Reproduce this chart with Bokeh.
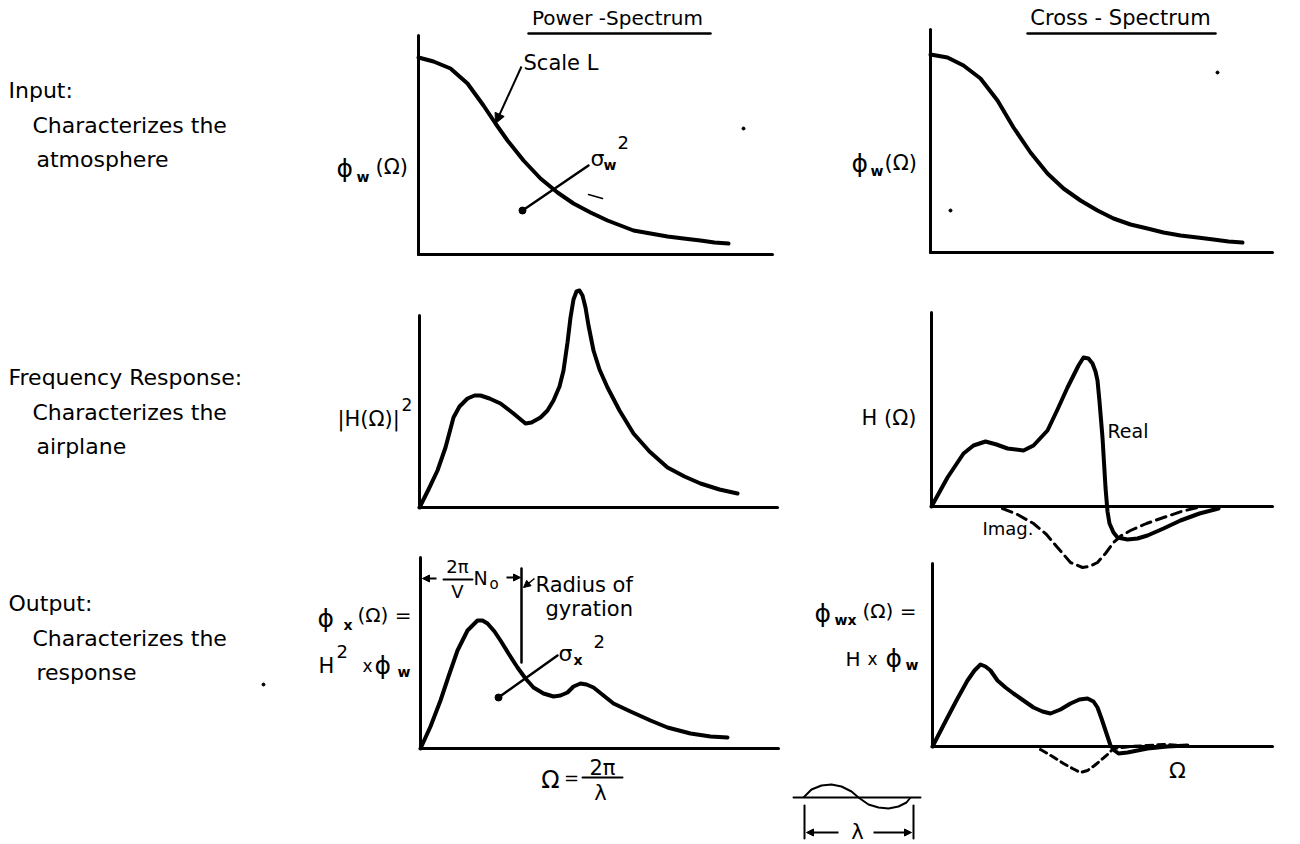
import numpy as np
from bokeh.plotting import figure
from bokeh.models import Range1d, Arrow, NormalHead
from bokeh.embed import file_html
from bokeh.resources import INLINE
from bokeh.core.properties import value

FONT = "DejaVu Sans"

# ---------------- texts ----------------
row_titles = ["Input:", "Frequency Response:", "Output:"]
row_line2 = ["Characterizes the", "Characterizes the", "Characterizes the"]
row_line3 = ["atmosphere", "airplane", "response"]
col_titles = ["Power -Spectrum", "Cross - Spectrum"]

# ---------------- curves (x right of origin, y above origin) ----------------
# Input power spectrum phi_w
pw_in_x = [0, 15, 32, 49, 65, 77, 89, 105, 122, 139, 155, 172, 189, 202, 215, 232, 249, 265, 282, 296, 310]
pw_in_y = [197, 193, 186, 171, 149, 131, 114, 94, 76, 62, 51, 42, 34, 29, 24, 21, 18, 16, 14, 12, 11]
# Input cross spectrum phi_w
cr_in_x = [0, 17, 33, 50, 67, 83, 100, 117, 133, 150, 167, 183, 200, 217, 233, 250, 267, 283, 298, 312]
cr_in_y = [198, 195, 187, 174, 152, 125, 100, 79, 64, 52, 42, 34, 28, 24, 20, 17, 15, 13, 11, 10]
# |H|^2
h2_x = [0, 9, 18, 26, 34, 40, 48, 55, 61, 70, 81, 94, 106, 112, 121, 128, 134, 140, 144, 148,
        151, 154, 157, 160, 163, 166, 169, 174, 180, 188, 200, 214, 230, 248, 265, 281, 300, 318]
h2_y = [0, 18, 37, 60, 90, 101, 109, 112, 112, 109, 104, 94, 84, 85, 90, 97, 107, 121, 137, 165,
        190, 208, 216, 217, 212, 200, 182, 157, 138, 120, 97, 74, 56, 40, 31, 24, 18, 14]
# H real
hr_x = [0, 16, 32, 42, 54, 65, 76, 92, 102, 116, 126, 136, 147, 152, 157, 161, 164, 166, 168,
        171, 174, 176, 178, 182, 186, 196, 206, 216, 232, 249, 268, 287]
hr_y = [0, 29, 53, 61, 65, 62, 58, 56, 61, 76, 97, 119, 141, 149, 148, 143, 135, 126, 105,
        69, 19, -5, -17, -26, -31, -33, -32, -29, -22, -14, -7, -2]
# H imaginary
hi_x = [71, 86, 102, 115, 126, 139, 151, 158, 166, 174, 182, 190, 199, 215, 232, 250, 266]
hi_y = [-2, -8, -17, -28, -41, -56, -61, -60, -56, -47, -36, -29, -24, -17, -11, -5, -1]
# phi_x output
px_x = [0, 10, 20, 28, 37, 47, 57, 62, 67, 74, 80, 88, 97, 105, 113, 123, 133, 140, 147, 153,
        160, 166, 173, 183, 193, 210, 230, 247, 270, 290, 307]
px_y = [0, 22, 48, 72, 98, 118, 128, 128, 125, 117, 108, 95, 81, 70, 61, 55, 52, 53, 56, 62,
        65, 64, 61, 53, 45, 37, 28, 21, 15, 12, 11]
# phi_wx real
pwx_x = [0, 15, 25, 35, 42, 48, 53, 58, 65, 73, 81, 91, 101, 110, 118, 128, 138, 147, 155, 161,
         165, 169, 173, 176, 178, 182, 186, 195, 205, 215, 235, 255]
pwx_y = [0, 29, 48, 66, 76, 82, 80, 76, 66, 59, 53, 46, 39, 35, 33, 37, 43, 47, 48, 45,
         39, 28, 16, 7, 1, -4, -7, -6, -4, -2, 0, 1]
# phi_wx imaginary
pwxi_x = [108, 120, 131, 140, 148, 155, 162, 168, 175, 181, 190, 198, 215, 231, 250]
pwxi_y = [-3, -10, -17, -22, -26, -24, -19, -14, -8, -2, -1, 0, 1, 2, 1]
# wavelength sketch
wave_x = [0, 8, 18, 28, 38, 48, 55, 65, 75, 85, 95, 103, 107]
wave_y = [0, 8, 12, 13, 11, 6, 0, -7, -10, -11, -9, -5, 0]

# ---------------- panel geometry (origin x, origin y, y-axis top, x-axis end) ----------------
panels = {
    "p_in": (418, 254, 35, 772),
    "c_in": (930, 252, 29, 1272),
    "p_fr": (419, 507, 315, 777),
    "c_fr": (931, 506, 312, 1272),
    "p_out": (420, 748, 557, 778),
    "c_out": (932, 746, 563, 1272),
}

p = figure(width=1284, height=844, x_range=Range1d(0, 1284), y_range=Range1d(844, 0),
           x_axis_type=None, y_axis_type=None, toolbar_location=None,
           output_backend="svg", min_border=0, outline_line_color=None,
           background_fill_color="white", border_fill_color="white")
p.grid.visible = False


def txt(x, y, s, size=20, align="left", baseline="middle", style="normal"):
    p.text(x=[x], y=[y], text=[s], text_font=value(FONT), text_font_size=f"{size}px",
           text_align=align, text_baseline=baseline, text_color="black", text_font_style=style)


def curve(key, xs, ys, width=4, dash="solid"):
    ox, oy, _, _ = panels[key]
    X = ox + np.asarray(xs, dtype=float)
    Y = oy - np.asarray(ys, dtype=float)
    p.line(X, Y, line_color="black", line_width=width, line_dash=dash,
           line_join="round", line_cap="round")


def seg(x0, y0, x1, y1, w=2.5):
    p.line([x0, x1], [y0, y1], line_color="black", line_width=w, line_cap="round")


def arrow(x0, y0, x1, y1, size=8, w=2):
    p.add_layout(Arrow(x_start=x0, y_start=y0, x_end=x1, y_end=y1, line_width=w,
                       line_color="black",
                       end=NormalHead(size=size, fill_color="black", line_color="black")))


# axes of each panel
for key, (ox, oy, top, xend) in panels.items():
    seg(ox, top, ox, oy, w=3)
    seg(ox, oy, xend, oy, w=3)

# curves
curve("p_in", pw_in_x, pw_in_y)
curve("c_in", cr_in_x, cr_in_y)
curve("p_fr", h2_x, h2_y)
curve("c_fr", hr_x, hr_y)
curve("c_fr", hi_x, hi_y, width=3, dash="10 6")
curve("p_out", px_x, px_y)
curve("c_out", pwx_x, pwx_y)
curve("c_out", pwxi_x, pwxi_y, width=3, dash="7 5")

# left column text
for ty, t, l2, l3 in zip([90, 377, 603], row_titles, row_line2, row_line3):
    txt(8, ty, t, size=22)
    txt(32, ty + 35, l2, size=22)
    txt(36, ty + 69, l3, size=22)

# column headers
txt(617, 17, col_titles[0], size=20, align="center")
seg(528, 33, 710, 33, w=2.5)
txt(1120, 17, col_titles[1], size=21, align="center")
seg(1027, 33, 1215, 33, w=2.5)

# panel 1 labels
txt(336, 168, "ϕ", size=25)
txt(356, 176, "w", size=14, style="bold")
txt(375, 166, "(Ω)", size=21)
txt(523, 62, "Scale L", size=21)
arrow(521, 66, 495, 123, size=10)
txt(590, 158, "σ", size=22)
txt(603, 164, "w", size=14, style="bold")
txt(617, 142, "2", size=18)
seg(522, 210, 588, 165, w=2.5)
p.scatter([522], [210], size=7, color="black")
seg(588, 194, 602, 198, w=1.5)
p.scatter([743, 1217, 263, 950], [128, 72, 684, 210], size=3, color="black")

# panel 2 labels
txt(851, 163, "ϕ", size=25)
txt(870, 170, "w", size=14, style="bold")
txt(884, 162, "(Ω)", size=21)

# panel 3 labels
txt(337, 418, "|H(Ω)|", size=21)
txt(401, 404, "2", size=17)

# panel 4 labels
txt(861, 417, "H (Ω)", size=21)
txt(1107, 430, "Real", size=19)
txt(982, 528, "Imag.", size=18)

# panel 5 labels
txt(317, 618, "ϕ", size=25)
txt(343, 624, "x", size=14, style="bold")
txt(357, 614, "(Ω) =", size=20)
txt(318, 665, "H", size=21)
txt(336, 651, "2", size=18)
txt(362, 665, "x", size=17)
txt(374, 665, "ϕ", size=25)
txt(397, 671, "w", size=14, style="bold")
seg(521, 568, 521, 662, w=2.5)
txt(457, 566, "2π", size=18, align="center")
seg(443, 579, 472, 579, w=2)
txt(457, 591, "V", size=18, align="center")
txt(473, 577, "N", size=19)
txt(489, 583, "o", size=15)
arrow(436, 578, 422, 578, size=7)
arrow(506, 577, 520, 577, size=7)
txt(535, 584, "Radius of", size=21)
txt(545, 608, "gyration", size=21)
arrow(534, 578, 523, 587, size=7, w=1.5)
txt(558, 653, "σ", size=22)
txt(573, 659, "x", size=14, style="bold")
txt(593, 641, "2", size=18)
seg(498, 697, 557, 655, w=2.5)
p.scatter([498], [697], size=7, color="black")
txt(550, 779, "Ω", size=24, align="center")
txt(571, 777, "=", size=18, align="center")
txt(602, 767, "2π", size=21, align="center")
seg(582, 777, 622, 777, w=2)
txt(600, 792, "λ", size=21, align="center")

# panel 6 labels
txt(814, 613, "ϕ", size=25)
txt(834, 619, "wx", size=14, style="bold")
txt(862, 610, "(Ω) =", size=20)
txt(845, 658, "H", size=20)
txt(867, 658, "x", size=17)
txt(885, 658, "ϕ", size=25)
txt(905, 664, "w", size=14, style="bold")
txt(1177, 770, "Ω", size=22, align="center")

# wavelength sketch
wx0, wy0 = 803, 797
seg(793, wy0, 920, wy0, w=2)
p.line(wx0 + np.asarray(wave_x, float), wy0 - np.asarray(wave_y, float),
       line_color="black", line_width=2)
seg(804, 805, 804, 838, w=2)
seg(913, 805, 913, 838, w=2)
arrow(838, 832, 806, 832, size=7)
arrow(873, 832, 911, 832, size=7)
txt(857, 831, "λ", size=21, align="center")

open("out.html", "w").write(file_html(p, INLINE))
